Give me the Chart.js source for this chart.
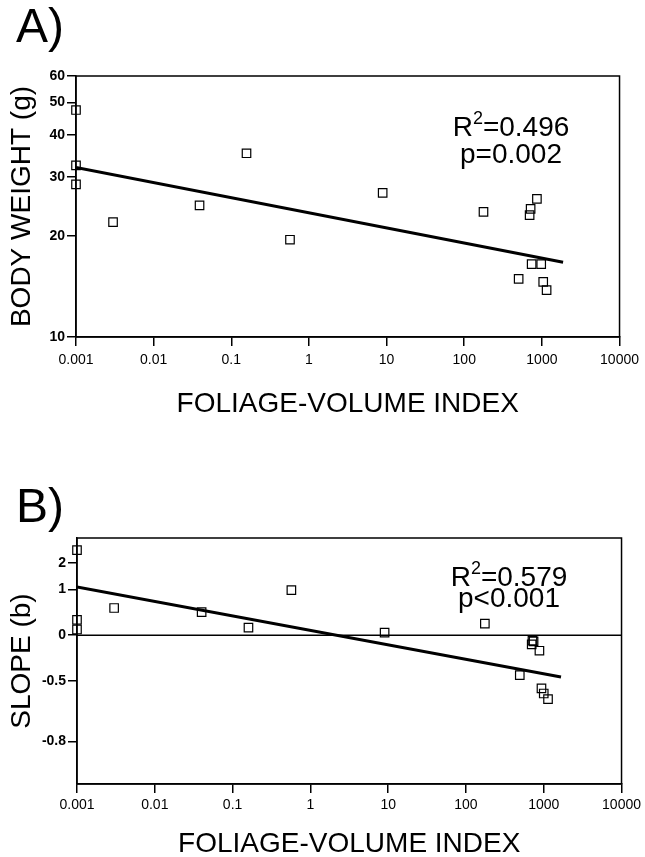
<!DOCTYPE html>
<html>
<head>
<meta charset="utf-8">
<script src="https://cdn.jsdelivr.net/npm/chart.js@4.4.1/dist/chart.umd.min.js"></script>
<style>
  body { margin: 0; background: #fff; }
  .panel { position: absolute; left: 0; }
  #panelA { top: 0; }
  #panelB { top: 430px; }
</style>
</head>
<body>
<div class="panel" id="panelA"><canvas id="chartA" width="645" height="425"></canvas></div>
<div class="panel" id="panelB"><canvas id="chartB" width="645" height="427"></canvas></div>
<script>
// --- data ---
const xTicks = [0.001, 0.01, 0.1, 1, 10, 100, 1000, 10000];
const xTickLabels = ['0.001', '0.01', '0.1', '1', '10', '100', '1000', '10000'];

// Panel A: body weight vs foliage-volume index (log-log)
const foliageA = [0.001, 0.001, 0.001, 0.003, 0.039, 0.157, 0.57, 8.9, 177, 863, 716, 695, 738, 980, 502, 1040, 1150];
const bodyWeight = [47.5, 32.5, 28.5, 22, 24.7, 35.3, 19.5, 26.9, 23.6, 25.8, 24.1, 23.1, 16.5, 16.5, 14.9, 14.6, 13.8];
const fitAx = [0.001, 1875];
const fitAy = [32, 16.7];
const yTicksA = [10, 20, 30, 40, 50, 60];
const statsA = ['0.496', 'p=0.002'];

// Panel B: slope (b) vs foliage-volume index, y drawn on log10(1 + b)
const foliageB = [0.001, 0.001, 0.001, 0.003, 0.040, 0.16, 0.57, 9, 175, 716, 740, 700, 880, 492, 935, 1000, 1135];
const slopeB = [2.63, 0.26, 0.09, 0.51, 0.42, 0.12, 0.98, 0.04, 0.19, -0.08, -0.09, -0.13, -0.21, -0.455, -0.554, -0.587, -0.621];
const fitBx = [0.001, 1667];
const fitBy = [1.08, -0.47];
const yTicksB = [-0.8, -0.5, 0, 1, 2];
const yLabelsB = ['-0.8', '-0.5', '0', '1', '2'];
const statsB = ['0.579', 'p<0.001'];

const FONT = '"Liberation Sans", Arial, Helvetica, sans-serif';
const slopeT = b => Math.log10(1 + b);

// frame, panel letter and R²/p text
const paperMarks = {
    id: 'paperMarks',
    afterDatasetsDraw(chart, args, opts) {
        const { ctx, chartArea: a } = chart;
        ctx.save();
        ctx.strokeStyle = '#000';
        ctx.lineWidth = 1.5;
        ctx.strokeRect(a.left, a.top, a.right - a.left, a.bottom - a.top);

        ctx.fillStyle = '#000';
        ctx.textBaseline = 'alphabetic';
        ctx.textAlign = 'left';
        ctx.font = '48px ' + FONT;
        ctx.fillText(opts.letter, 16, opts.letterY);

        // R² = ...
        const big = '28px ' + FONT, small = '18px ' + FONT;
        ctx.font = big;
        const wR = ctx.measureText('R').width;
        const rest = '=' + opts.stats[0];
        const wRest = ctx.measureText(rest).width;
        ctx.font = small;
        const w2 = ctx.measureText('2').width;
        let x = opts.statX - (wR + w2 + wRest) / 2;
        ctx.font = big;
        ctx.fillText('R', x, opts.rY);
        x += wR;
        ctx.font = small;
        ctx.fillText('2', x, opts.rY - 12);
        x += w2;
        ctx.font = big;
        ctx.fillText(rest, x, opts.rY);

        ctx.textAlign = 'center';
        ctx.fillText(opts.stats[1], opts.statX, opts.pY);
        ctx.restore();
    }
};

function xScale(tickPad, height, titlePad) {
    return {
        type: 'logarithmic',
        min: 0.001,
        max: 10000,
        afterBuildTicks: s => { s.ticks = xTicks.map(v => ({ value: v })); },
        afterFit: s => { s.height = height; },
        ticks: {
            color: '#000',
            padding: tickPad,
            maxRotation: 0,
            autoSkip: false,
            font: { family: FONT, size: 14 },
            callback: (v, i) => xTickLabels[i]
        },
        grid: { drawOnChartArea: false, drawTicks: true, tickLength: 9, color: '#000', lineWidth: 1.5 },
        border: { display: true, color: '#000', width: 1.5 },
        title: {
            display: true,
            text: 'FOLIAGE-VOLUME INDEX',
            color: '#000',
            font: { family: FONT, size: 28 },
            padding: { top: 0, bottom: titlePad }
        }
    };
}

function yAxisBase(title, width) {
    return {
        afterFit: s => { s.width = width; },
        ticks: {
            color: '#000',
            padding: 2,
            autoSkip: false,
            font: { family: FONT, size: 14, weight: 'bold' }
        },
        grid: { drawOnChartArea: false, drawTicks: true, tickLength: 9, color: '#000', lineWidth: 1.5 },
        border: { display: true, color: '#000', width: 1.5 },
        title: {
            display: true,
            text: title,
            color: '#000',
            font: { family: FONT, size: 28 },
            padding: { top: 5, bottom: 0 }
        }
    };
}

const pointStyle = {
    showLine: false,
    pointStyle: 'rect',
    pointRadius: 6,
    pointBorderWidth: 1.2,
    pointBorderColor: '#000',
    pointBackgroundColor: 'rgba(0,0,0,0)',
    clip: false
};

// Panel A
const yA = yAxisBase('BODY WEIGHT (g)', 76);
yA.type = 'logarithmic';
yA.min = 10;
yA.max = 60;
yA.afterBuildTicks = s => { s.ticks = yTicksA.map(v => ({ value: v })); };
yA.ticks.callback = v => String(v);

new Chart(document.getElementById('chartA'), {
    type: 'scatter',
    data: {
        datasets: [
            {
                data: fitAx.map((x, i) => ({ x: x, y: fitAy[i] })),
                showLine: true,
                borderColor: '#000',
                borderWidth: 3,
                pointRadius: 0
            },
            Object.assign({ data: foliageA.map((x, i) => ({ x: x, y: bodyWeight[i] })) }, pointStyle)
        ]
    },
    options: {
        responsive: false,
        animation: false,
        layout: { padding: { top: 76, right: 23, left: 0, bottom: 0 } },
        plugins: {
            legend: { display: false },
            tooltip: { enabled: false },
            paperMarks: { letter: 'A)', letterY: 42, stats: statsA, statX: 511, rY: 136, pY: 163 }
        },
        scales: { x: xScale(6, 88, 4), y: yA }
    },
    plugins: [paperMarks]
});

// Panel B
const yB = yAxisBase('SLOPE (b)', 77);
yB.type = 'linear';
yB.min = -0.98;
yB.max = 0.64;
yB.afterBuildTicks = s => { s.ticks = yTicksB.map(v => ({ value: slopeT(v) })); };
yB.ticks.callback = (v, i) => yLabelsB[i];

new Chart(document.getElementById('chartB'), {
    type: 'scatter',
    data: {
        datasets: [
            {
                data: fitBx.map((x, i) => ({ x: x, y: slopeT(fitBy[i]) })),
                showLine: true,
                borderColor: '#000',
                borderWidth: 3,
                pointRadius: 0
            },
            {
                // zero reference line
                data: [{ x: 0.001, y: 0 }, { x: 10000, y: 0 }],
                showLine: true,
                borderColor: '#000',
                borderWidth: 1.5,
                pointRadius: 0
            },
            Object.assign({ data: foliageB.map((x, i) => ({ x: x, y: slopeT(slopeB[i]) })) }, pointStyle)
        ]
    },
    options: {
        responsive: false,
        animation: false,
        layout: { padding: { top: 108, right: 23, left: 0, bottom: 0 } },
        plugins: {
            legend: { display: false },
            tooltip: { enabled: false },
            paperMarks: { letter: 'B)', letterY: 92, stats: statsB, statX: 509, rY: 156, pY: 177 }
        },
        scales: { x: xScale(4, 73, -4), y: yB }
    },
    plugins: [paperMarks]
});
</script>
</body>
</html>
